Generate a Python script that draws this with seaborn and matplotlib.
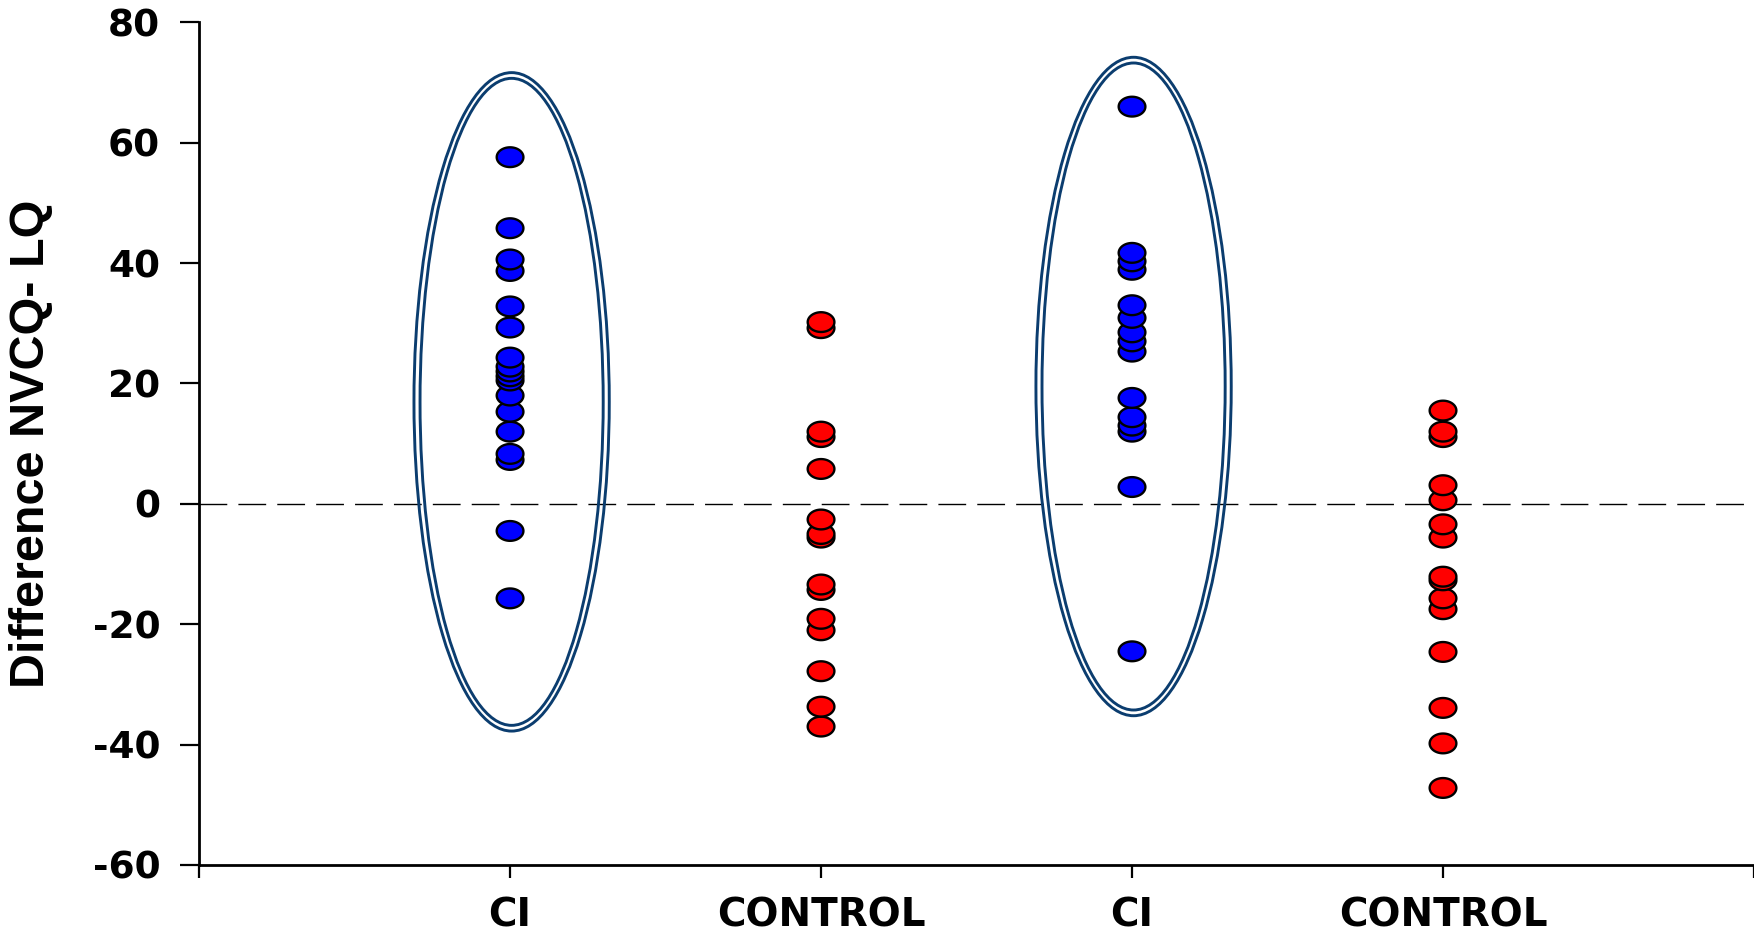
import numpy as np
import pandas as pd
import matplotlib
matplotlib.use("Agg")
import matplotlib.pyplot as plt
from matplotlib.path import Path
from matplotlib.patches import Ellipse
import seaborn as sns

# --- data ---
groups = ["CI", "CONTROL", "CI", "CONTROL"]
ci_1 = [57.6, 45.8, 40.6, 38.7, 32.8, 29.3, 24.3, 22.8, 22.0, 21.2, 20.5,
        18.0, 15.3, 12.0, 8.3, 7.3, -4.5, -15.7]
control_1 = [30.2, 29.2, 12.0, 11.1, 5.8, -2.6, -5.0, -5.6, -13.4, -14.3,
             -19.1, -21.0, -27.8, -33.7, -37.0]
ci_2 = [66.0, 41.7, 40.3, 38.9, 33.0, 30.9, 28.5, 27.0, 25.3, 17.6, 14.4,
        13.0, 12.0, 2.8, -24.5]
control_2 = [15.5, 12.0, 11.1, 3.1, 0.6, -3.4, -5.6, -12.1, -12.7, -15.7,
             -17.5, -24.6, -33.9, -39.8, -47.2]
y_ticks = [-60, -40, -20, 0, 20, 40, 60, 80]

# highlighted CI columns (group index, centre y, height of the ring)
ring_groups = [0, 2]
ring_centres = [16.95, 19.5]
ring_height = 109.4

# --- build long table ---
rows = []
for i, vals in enumerate([ci_1, control_1, ci_2, control_2]):
    for v in sorted(vals):
        rows.append({"pos": i + 1, "kind": groups[i], "diff": v})
df = pd.DataFrame(rows)

sns.set_style("ticks")
plt.rcParams["axes.unicode_minus"] = False

fig = plt.figure(figsize=(17.54, 9.32), dpi=100)
ax = fig.add_axes([0.1135, 0.0719, 0.8865, 0.9041])

# flat ellipse marker like the original
t = np.linspace(0, 2 * np.pi, 64)
oval = Path(np.column_stack([np.cos(t), 0.74 * np.sin(t)]), closed=True)

ax.axhline(0, color="black", lw=1.0, dashes=(20, 8), zorder=1)

for g, cy in zip(ring_groups, ring_centres):
    for w, h in [(0.628, ring_height), (0.589, ring_height - 1.9)]:
        ax.add_patch(Ellipse((g + 1.005, cy), w, h, fill=False,
                             edgecolor="#0b3d6f", lw=2.1, zorder=2))

sns.scatterplot(data=df, x="pos", y="diff", hue="kind",
                palette={"CI": "#0000ff", "CONTROL": "#ff0000"},
                marker=oval, s=370, edgecolor="black", linewidth=1.7,
                legend=False, ax=ax, zorder=3)

ax.set_xlim(0, 5)
ax.set_ylim(-60, 80)
ax.set_xticks(range(6))
ax.set_xticklabels([""] + groups + [""])
ax.set_yticks(y_ticks)
ax.set_xlabel("")
ax.set_ylabel("Difference NVCQ- LQ", fontsize=35, fontweight="bold",
              family="Liberation Sans", color="black")
ax.yaxis.set_label_coords(-0.093, 0.5)

for s in ["top", "right"]:
    ax.spines[s].set_visible(False)
for s in ["left", "bottom"]:
    ax.spines[s].set_linewidth(2.0)
    ax.spines[s].set_color("black")

ax.tick_params(axis="y", direction="out", length=14, width=1.6, pad=14,
               labelsize=27, colors="black")
ax.tick_params(axis="x", direction="out", length=9, width=1.6, pad=14,
               labelsize=28, colors="black")
for lab in ax.get_yticklabels() + ax.get_xticklabels():
    lab.set_fontweight("bold")
    lab.set_family("DejaVu Sans")

fig.savefig("out.png", dpi=100, facecolor="white")
